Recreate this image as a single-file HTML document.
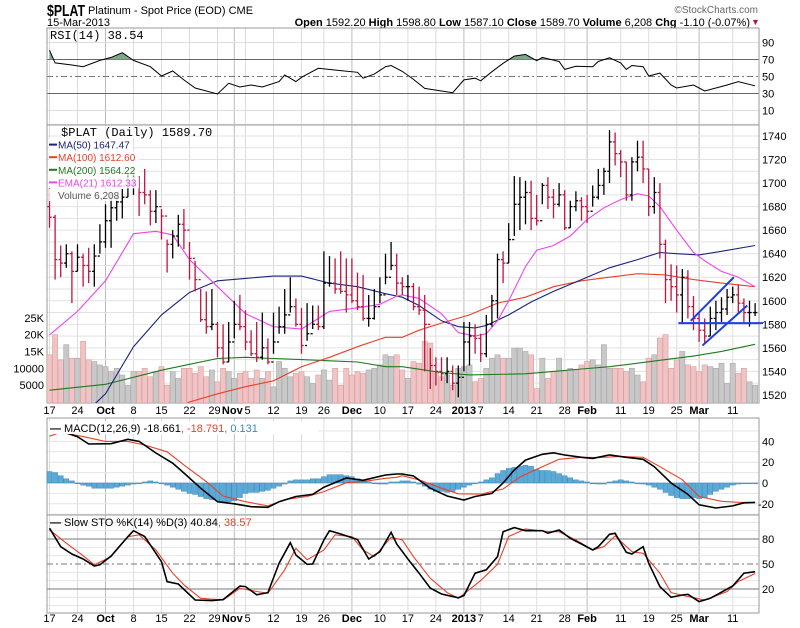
<!DOCTYPE html>
<html><head><meta charset="utf-8"><style>
body{margin:0;background:#fff;}
svg{display:block;font-family:"Liberation Sans",Arial,sans-serif;}
</style></head><body>
<svg id="chart" width="800" height="628" xmlns="http://www.w3.org/2000/svg">
<g id="hdr">
<text x="47" y="16" font-size="16" font-weight="bold" textLength="38" lengthAdjust="spacingAndGlyphs">$PLAT</text>
<text x="88" y="14" font-size="11">Platinum  - Spot Price (EOD) CME</text>
<text x="47" y="26" font-size="11">15-Mar-2013</text>
<text x="758" y="13" font-size="10" fill="#666" text-anchor="end">©StockCharts.com</text>
<text x="750" y="26" font-size="11" text-anchor="end"><tspan font-weight="bold">Open</tspan> 1592.20 <tspan font-weight="bold">High</tspan> 1598.80 <tspan font-weight="bold">Low</tspan> 1587.10 <tspan font-weight="bold">Close</tspan> 1589.70 <tspan font-weight="bold">Volume</tspan> 6,208 <tspan font-weight="bold">Chg</tspan> -1.10 (-0.07%)</text>
<text x="751" y="25" font-size="9" fill="#c0143c">▼</text>
</g>
<g id="grid"></g>
<g id="marks"></g>
<g id="labels"></g>
</svg>
<script>
const closes=[1671,1635,1632,1640,1625,1637,1630,1625,1638,1650,1668,1679,1684,1688,1700,1705,1692,1690,1676,1680,1672,1648,1655,1665,1660,1636,1618,1584,1578,1580,1560,1548,1565,1580,1578,1565,1555,1552,1560,1548,1565,1578,1588,1595,1580,1562,1572,1580,1578,1615,1615,1610,1608,1605,1600,1595,1585,1585,1595,1605,1620,1630,1615,1612,1612,1595,1592,1580,1545,1540,1538,1540,1530,1535,1565,1570,1568,1555,1580,1600,1635,1632,1652,1682,1688,1692,1670,1668,1698,1688,1682,1690,1662,1680,1685,1680,1676,1688,1698,1710,1735,1725,1718,1690,1718,1722,1712,1680,1692,1648,1618,1612,1605,1620,1595,1585,1575,1570,1585,1590,1593,1603,1605,1598,1590,1590,1590];
const highs=[1696,1673,1647,1648,1642,1648,1640,1645,1648,1665,1682,1692,1690,1695,1708,1712,1706,1712,1694,1694,1678,1652,1660,1673,1678,1650,1634,1610,1608,1610,1582,1580,1582,1600,1605,1592,1575,1582,1590,1568,1590,1595,1610,1620,1602,1594,1598,1596,1596,1642,1638,1636,1642,1636,1636,1624,1622,1605,1610,1620,1640,1650,1640,1620,1622,1615,1612,1605,1560,1552,1552,1552,1545,1545,1582,1582,1580,1572,1588,1605,1640,1642,1666,1706,1705,1702,1702,1690,1700,1705,1695,1700,1694,1685,1693,1688,1690,1698,1712,1713,1745,1743,1728,1718,1722,1736,1736,1712,1705,1700,1652,1631,1630,1627,1626,1604,1590,1585,1595,1600,1603,1610,1612,1614,1602,1600,1598];
const lows=[1662,1618,1620,1628,1598,1625,1612,1615,1612,1640,1645,1645,1668,1670,1688,1690,1672,1682,1664,1666,1652,1624,1636,1646,1644,1618,1608,1582,1572,1575,1552,1546,1548,1568,1575,1558,1553,1548,1550,1546,1555,1572,1572,1590,1578,1555,1566,1576,1575,1576,1612,1606,1606,1590,1598,1592,1583,1578,1584,1598,1614,1626,1605,1605,1600,1592,1588,1540,1525,1528,1532,1530,1524,1518,1540,1545,1555,1548,1552,1578,1585,1615,1632,1655,1660,1665,1660,1664,1682,1678,1670,1680,1660,1662,1676,1668,1666,1680,1686,1690,1700,1715,1705,1685,1685,1710,1700,1672,1674,1636,1598,1600,1590,1581,1585,1575,1565,1563,1570,1575,1582,1588,1598,1590,1582,1578,1587];
const volumes=[14,20,12.5,17,13,13,18,12.5,12,11,10.5,9,10,8,5,9,9,10,7.5,9,10.5,5,9,7,10,10,8.5,10.5,7.5,9.5,6,10,9,7,8.5,9,7,9.5,7,9,4.5,12,10,7.5,8.5,9,7.5,5.5,8,9.5,6.5,10,5,10,8,9,8.5,9.5,10,11,14,13.5,14,9.5,7,12,11.5,18,17.5,9,7.5,8,5,10,10.5,11,6,7,10,13,14,13,13,16,16,15,14,4,13,7,9,13,9,10,9.5,11,12,12.5,11,17,10,10,10,9,10,8,6,13,14,19,20,10,12.5,15,11,10.5,9,11,10.5,10,11.5,5.5,11.5,8.5,10,6,5];
const ema21Idx=[0,5,10,15,19,22,25,30,35,40,45,50,55,59,62,63,66,70,73,76,78,80,82,85,87,90,93,96,99,102,105,107,109,112,115,117,120,123,126];
const ema21Val=[1571,1591,1617,1657,1659,1656,1635,1612,1589,1578,1576,1591,1594,1597,1604,1605,1602,1589,1573,1570,1572,1583,1600,1629,1643,1647,1655,1669,1679,1686,1691,1689,1680,1660,1641,1634,1625,1620,1612];
const ma50Idx=[8,10,15,20,25,30,35,40,45,50,55,60,63,66,70,73,76,78,82,86,90,95,100,105,109,112,116,120,126];
const ma50Val=[1512,1521,1561,1588,1607,1617,1619,1621,1621,1615,1612,1606,1603,1596,1583,1578,1577,1579,1588,1599,1608,1618,1628,1635,1641,1640,1639,1642,1647];
const ma100Idx=[24,25,30,35,40,45,50,55,60,63,66,70,75,80,85,90,95,100,105,110,115,120,126];
const ma100Val=[1511,1514,1521,1527,1532,1544,1552,1561,1569,1569,1575,1581,1588,1598,1603,1612,1617,1620,1623,1622,1618,1615,1612];
const ma200Idx=[0,10,20,25,30,35,40,45,50,55,60,63,70,75,85,90,95,100,105,110,115,120,126];
const ma200Val=[1524,1529,1541,1546,1551,1552,1551,1550,1549,1548,1544,1544,1539,1537,1538,1540,1542,1544,1547,1550,1553,1557,1563];
const rsiIdx=[0,1,4,6,9,11,13,15,18,20,22,24,26,30,32,34,36,38,41,42,44,45,48,52,55,56,58,60,61,63,65,67,70,72,74,76,77,79,81,83,85,87,88,91,92,94,97,98,100,102,103,104,106,107,109,111,112,115,117,119,121,123,126];
const rsiVal=[81,66,63.5,61.5,69,72.5,78,69,61.5,50.6,56.5,46,36.5,29.4,42,37.6,40,37.6,44,51.8,44,49,59.6,57,55,48,52.8,61.5,63,56,46.6,36,33,31,46,48,45,55.7,65.5,74,76,68.6,72.5,67.6,58.4,62,61.5,67.6,72,66,58.4,63,61.5,50.6,54,40,36.5,40,33,36.5,40,44,39];
const macdIdx=[2,5,7,11,14,16,19,22,24,27,30,33,36,39,41,44,47,49,53,56,60,62,63,65,68,71,74,76,79,81,83,85,88,90,92,95,97,100,103,106,108,111,114,116,119,122,124,126];
const macdVal=[50,44.5,37.5,37.8,42,40,28.8,19,9.6,-5,-18,-20,-22.8,-23.4,-18,-13,-11,-4,4.8,2.6,7.7,8.7,8.7,6.7,-5,-12.5,-16.3,-13,-10,0,12.5,22,27.6,29,26.9,24.7,23.7,27,24.7,22.8,15.7,0,-11,-21,-24,-22,-19,-18.7];
const signalIdx=[0,2,6,10,14,17,21,24,28,31,35,39,42,46,49,53,56,60,62,63,66,70,73,77,81,84,88,91,95,98,102,106,109,113,116,120,123,126];
const signalVal=[45,48.7,44.6,40,40,36.5,30,17.4,1.3,-12.5,-18,-22,-16,-13,-8.3,0.3,1.3,4.5,5.5,7,3,-5,-10.4,-10.7,-5.8,5.8,15.7,22.8,24.7,24.4,25.5,24.7,15.7,3.2,-13,-17.6,-18.6,-18.8];
const histVal=[11,10,7,4,2,0,-2,-3,-5,-5,-5,-5,-4,-3,-2,-1,0,1,2,1,0,-2,-4,-6,-8,-10,-11,-13,-15,-16,-17,-18,-18,-17,-14,-10,-9,-9,-8,-7,-5,-3,-1,2,3,3,3,4,4,6,8,8,8,7,6,4,2,1,0,-1,-1,1,1,2,2,1,-1,-3,-6,-8,-8,-9,-8,-6,-4,-2,0,1,3,5,9,12,14,15,16,17,16,13,12,12,11,9,7,5,3,2,1,0,-1,-1,1,2,3,2,1,0,-1,-2,-4,-6,-9,-12,-14,-15,-15,-14,-15,-14,-11,-8,-6,-4,-2,-1,0,0,0];
const stoKIdx=[0,2,4,6,8,9,11,14,15,17,20,21,23,26,29,31,34,35,37,39,41,43,44,46,47,49,50,52,55,57,59,61,62,64,66,68,70,73,74,76,78,80,81,83,85,88,89,91,93,95,97,98,100,101,103,104,106,107,109,111,113,114,116,118,122,124,126];
const stoKVal=[93,70.8,62,56,47.6,49,59.6,82.8,90,83,52.8,28.7,26,6.8,6,7.2,23.5,22.8,13,15.6,51,75.6,60.8,49.6,50,78.8,90,86,79.4,56,64.8,88,74,56,39,21,14,9.4,12,39,43,58.8,88.8,93.7,90,90,87,90.8,80.8,74,66.8,70.8,85.6,86.8,64,62,70.8,51,22.8,10,12.8,13.6,4.8,8.8,23.6,39,40.8];
const stoDIdx=[0,3,6,8,11,14,16,19,22,24,27,31,34,37,39,42,44,46,49,51,54,56,58,61,63,65,68,71,73,77,80,82,85,89,91,94,97,99,101,104,106,109,111,114,117,121,123,126];
const stoDVal=[91,75,60,49,58.8,82.8,85,66.8,39,25,8.8,6.8,20.8,17,14.8,43,68.8,55,66.8,85,82.8,66.8,58.8,82,78.8,58.8,32.8,15.6,8.8,30,49.6,83,92,88.8,88.8,78.8,66.8,70.8,83.6,64.8,62.8,39,15.6,11,6.8,17,29,38.6];
const priceTicks=[1520,1540,1560,1580,1600,1620,1640,1660,1680,1700,1720,1740];
const volTicks=[5000,10000,15000,20000,25000];
const volTickLabels=["5000","10000","15K","20K","25K"];
const rsiTicks=[10,30,50,70,90];
const macdTicks=[-20,0,20,40];
const stoTicks=[20,50,80];
const dateIdx=[0,5,10,15,20,25,30,33,35,40,45,49,54,59,64,69,74,77,82,87,92,96,102,107,112,116,122];
const dateLbl=["17","24","Oct","8","15","22","29","Nov","5","12","19","26","Dec","10","17","24","2013","7","14","21","28","Feb","11","19","25","Mar","11"];
const monthIdx=[10,33,54,74,96,116];
const trendLines=[[114.5,1583,122.2,1620],[116.6,1562,124.6,1596],[112.3,1581,127.5,1581]];

const NS="http://www.w3.org/2000/svg";
const L=47,R=759;
const X=i=>49.5+i*5.6;
const yP=p=>136+(1740-p)*1.177;
const yV=v=>402-v*1000*0.00337;
const yR=v=>119-0.85*v;
const yM=v=>483-1.04*v;
const yS=v=>539+(80-v)*0.833;
const panels={rsi:[28,125],price:[125,403],macd:[418,515],sto:[515,613]};
function mk(tag,attrs,parent){const e=document.createElementNS(NS,tag);for(const k in attrs)e.setAttribute(k,attrs[k]);parent.appendChild(e);return e;}
const G=document.getElementById('grid'),M=document.getElementById('marks'),T=document.getElementById('labels');
const isMonth=i=>monthIdx.includes(i);

const defs=mk('defs',{},document.getElementById('chart'));
for(const k in panels){const c=mk('clipPath',{id:'clip-'+k},defs);mk('rect',{x:L,y:panels[k][0],width:R-L,height:panels[k][1]-panels[k][0]},c);}

for(const k in panels){for(const i of dateIdx){const l=mk('line',{x1:X(i),x2:X(i),y1:panels[k][0],y2:panels[k][1],stroke:isMonth(i)?'#bbb':'#ddd','stroke-width':1},G);

}}
for(let p=1520;p<=1750;p+=10){const l=mk('line',{x1:L,x2:R,y1:yP(p),y2:yP(p),stroke:'#e2e2e2'},G);

}
for(let v=10;v<=90;v+=20){const l=mk('line',{x1:L,x2:R,y1:yR(v),y2:yR(v),stroke:v===30||v===70?'#666':'#ddd','stroke-dasharray':v===50?'6,3,2,3':'none'},G);
if(v===50)l.setAttribute('stroke','#777');

}
for(let v=-30;v<=50;v+=10){const l=mk('line',{x1:L,x2:R,y1:yM(v),y2:yM(v),stroke:v===0?'#ccc':'#e4e4e4'},G);

}
for(let v=0;v<=100;v+=10){const l=mk('line',{x1:L,x2:R,y1:yS(v),y2:yS(v),stroke:(v===20||v===80||v===50)?'#777':'#e4e4e4','stroke-dasharray':v===50?'6,3,2,3':'none'},G);

}
for(const k in panels){const r=mk('rect',{x:L,y:panels[k][0],width:R-L,height:panels[k][1]-panels[k][0],fill:'none',stroke:'#999'},G);

}

const gv=mk('g',{'clip-path':'url(#clip-price)'},M);


volumes.forEach((v,i)=>{const up=i===0?false:closes[i]>=closes[i-1];const y=yV(v);
const b=mk('rect',{x:X(i)-2.6,y:y,width:5.2,height:403-y,fill:up?'#c8c8c8':'#f0c4c4',stroke:up?'#aaa':'#dca0a0','stroke-width':0.6},gv);

});

function line(idx,vals,yf,color,w,clip,name){const pts=idx.map((i,k)=>X(i).toFixed(1)+','+yf(vals[k]).toFixed(1)).join(' ');
const p=mk('polyline',{points:pts,fill:'none',stroke:color,'stroke-width':w,'clip-path':'url(#clip-'+clip+')'},M);

return p;}
line(ma200Idx,ma200Val,yP,'#1f7a1f',1.1,'price','ma200-line');
line(ma100Idx,ma100Val,yP,'#e8402a',1.1,'price','ma100-line');
line(ma50Idx,ma50Val,yP,'#1a237e',1.1,'price','ma50-line');
line(ema21Idx,ema21Val,yP,'#ee44ee',1.1,'price','ema21-line');

closes.forEach((c,i)=>{const up=i===0?false:c>=closes[i-1];const col=up?'#000':'#c0143c';const x=X(i);const o=i===0?1680:closes[i-1];
const g=mk('g',{stroke:col,'stroke-width':1.3},M);


mk('line',{x1:x,x2:x,y1:yP(highs[i]),y2:yP(lows[i])},g);
mk('line',{x1:x-2.2,x2:x,y1:yP(o),y2:yP(o)},g);
mk('line',{x1:x,x2:x+2.2,y1:yP(c),y2:yP(c)},g);});

trendLines.forEach(t=>{const l=mk('line',{x1:X(t[0]),y1:yP(t[1]),x2:Math.min(X(t[2]),763),y2:yP(t[3]),stroke:'#1f3fe0','stroke-width':2},M);

});

const cl=mk('clipPath',{id:'rsi-over'},defs);mk('rect',{x:L,y:panels.rsi[0],width:R-L,height:yR(70)-panels.rsi[0]},cl);
const fillPts=[X(rsiIdx[0])+','+yR(70)].concat(rsiIdx.map((i,k)=>X(i)+','+yR(rsiVal[k]))).concat([X(rsiIdx[rsiIdx.length-1])+','+yR(70)]).join(' ');
const rf=mk('polygon',{points:fillPts,fill:'#7fa88a',stroke:'none','clip-path':'url(#rsi-over)'},M);


line(rsiIdx,rsiVal,yR,'#000',1,'rsi','rsi-line');

histVal.forEach((h,i)=>{const y0=yM(0),y1=yM(h);
const b=mk('rect',{x:X(i)-2.5,y:Math.min(y0,y1),width:5,height:Math.max(Math.abs(y1-y0),0.8),fill:'#5aaad8',stroke:'#3c88bb','stroke-width':0.5},M);

});
line(signalIdx,signalVal,yM,'#e8402a',1.1,'macd','macd-signal-line');
line(macdIdx,macdVal,yM,'#000',1.6,'macd','macd-line');
line(stoDIdx,stoDVal,yS,'#e8402a',1.1,'sto','sto-d-line');
line(stoKIdx,stoKVal,yS,'#000',1.6,'sto','sto-k-line');

function txt(x,y,s,attrs,name){const t=mk('text',Object.assign({x:x,y:y,'font-size':11},attrs||{}),T);t.textContent=s;

return t;}
priceTicks.forEach(p=>txt(762,yP(p)+4,String(p),{},'price-tick-label'));
volTicks.forEach((v,k)=>txt(44,yV(v/1000)+4,volTickLabels[k],{'text-anchor':'end'},'volume-tick-label'));
rsiTicks.forEach(v=>txt(762,yR(v)+4,String(v),{},'rsi-tick-label'));
macdTicks.forEach(v=>txt(v<0?758:762,yM(v)+4,String(v),{},'macd-tick-label'));
stoTicks.forEach(v=>txt(762,yS(v)+4,String(v),{},'sto-tick-label'));
[414,622].forEach(yy=>dateIdx.forEach((i,k)=>{const m=isMonth(i)||dateLbl[k]==='2013';const dx=dateLbl[k]==='Nov'?-2:(dateLbl[k]==='5'?2:(dateLbl[k]==='29'?-3:0));
txt(X(i)+dx,yy,dateLbl[k],{'text-anchor':'middle','font-weight':m?'bold':'normal'},'date-axis-label');}));

txt(50,39,'RSI(14) 38.54',{'font-family':'Liberation Mono, monospace','font-size':12},'rsi-legend');
const leg=[['$PLAT (Daily) 1589.70','#000'],['MA(50) 1647.47','#1a237e'],['MA(100) 1612.60','#e8402a'],['MA(200) 1564.22','#1f7a1f'],['EMA(21) 1612.33','#ee44ee'],['Volume 6,208','#555']];
leg.forEach((l,k)=>{const y=k===0?136:136+k*12.6;
const r=mk('rect',{x:k===0?61:49,y:y-10,width:k===0?117:l[0].length*6,height:12,fill:'#fff','fill-opacity':0.85},T);


if(k>0&&k<5){const s=mk('line',{x1:49,x2:57,y1:y-4,y2:y-4,stroke:l[1],'stroke-width':2},T);

}
txt(k===0?61:58,y,l[0],{fill:l[1],'font-size':k===0?12:10,'font-family':k===0?'Liberation Mono, monospace':'Liberation Sans, sans-serif'},'price-legend-entry');});
const mr=mk('rect',{x:48,y:421,width:270,height:13,fill:'#fff'},T);


const mt=txt(50,432,'',{'font-size':11},'macd-legend');
mt.innerHTML='<tspan font-weight="bold">—</tspan> MACD(12,26,9) -18.661<tspan fill="#e8402a">, -18.791</tspan><tspan fill="#3c88bb">, 0.131</tspan>';
const st=txt(50,526,'',{'font-size':11},'sto-legend');
st.innerHTML='<tspan font-weight="bold">—</tspan> Slow STO %K(14) %D(3) 40.84<tspan fill="#e8402a">, 38.57</tspan>';
</script>
</body></html>
